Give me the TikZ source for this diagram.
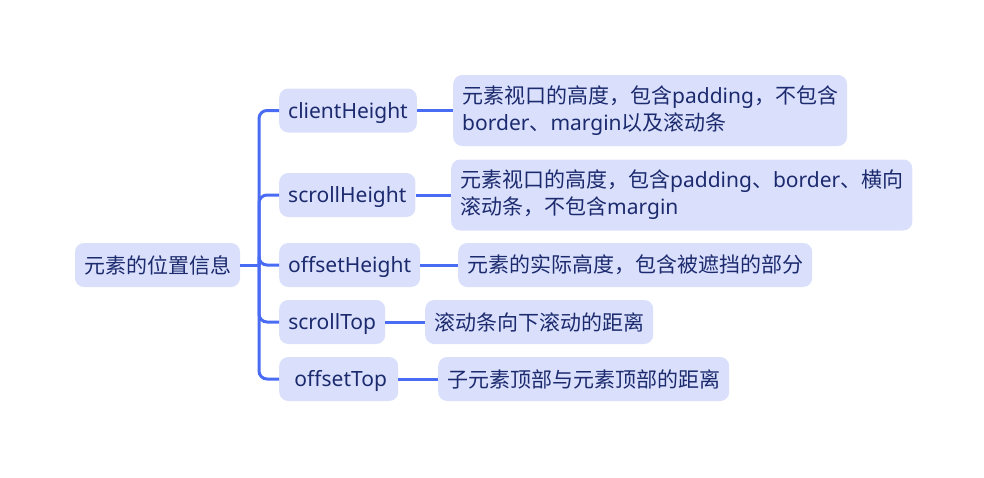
\documentclass[tikz,border=0pt]{standalone}
\usepackage{fontspec}
\setmainfont{Noto Sans}
\newfontfamily\cjk{Noto Sans CJK SC}
\definecolor{boxfill}{HTML}{DAE0FC}
\definecolor{boxtext}{HTML}{1C2A6E}
\definecolor{linkblue}{HTML}{4A6CF5}
\begin{document}
\begin{tikzpicture}[x = 1pt, y = -1pt,
    every node/.style = {fill = boxfill, text = boxtext, rounded corners = 9pt,
      inner xsep = 9pt, inner ysep = 0pt, minimum height = 44pt,
      font = \fontsize{21}{27}\selectfont},
    key/.style = {anchor = west, text height = 18pt, text depth = 3pt},
    desc/.style = {anchor = west, align = left},
    link/.style = {draw = linkblue, line width = 3pt, rounded corners = 8pt}]
  \useasboundingbox (0,0) rectangle (984,477);
  % root and properties
  \node (root) at (157.5,265) {\cjk 元素的位置信息};
  \node [key, minimum width = 135pt] (client) at (279,110.5) {clientHeight};
  \node [key, minimum width = 133pt] (scrollh) at (279,195) {scrollHeight};
  \node [key, minimum width = 139pt] (offseth) at (279,265) {offsetHeight};
  \node [key, minimum width = 106pt] (scrollt) at (279,322) {scrollTop};
  \node [key, minimum width = 119pt] (offsett) at (279,379) {\hspace{4pt}offsetTop};
  % descriptions
  \node [desc, minimum height = 71pt] (dclient) at (453,110.5)
    {{\cjk 元素视口的高度，包含}padding{\cjk ，不包含}\\
     border{\cjk 、}margin{\cjk 以及滚动条}};
  \node [desc, minimum height = 71pt] (dscrollh) at (451,195)
    {{\cjk 元素视口的高度，包含}padding{\cjk 、}border{\cjk 、横向}\\
     {\cjk 滚动条，不包含}margin};
  \node [desc] (doffseth) at (458,265) {\cjk 元素的实际高度，包含被遮挡的部分};
  \node [desc] (dscrollt) at (425,322) {\cjk 滚动条向下滚动的距离};
  \node [desc] (doffsett) at (438,379) {\cjk 子元素顶部与元素顶部的距离};
  % connectors
  \coordinate (trunk) at (259,265);
  \draw [link] (root.east) -- (trunk);
  \foreach \k in {client, scrollh, offseth, scrollt, offsett}
    \draw [link] (trunk) |- (\k.west);
  \foreach \k in {client, scrollh, offseth, scrollt, offsett}
    \draw [link] (\k.east) -- (d\k.west);
\end{tikzpicture}
\end{document}
